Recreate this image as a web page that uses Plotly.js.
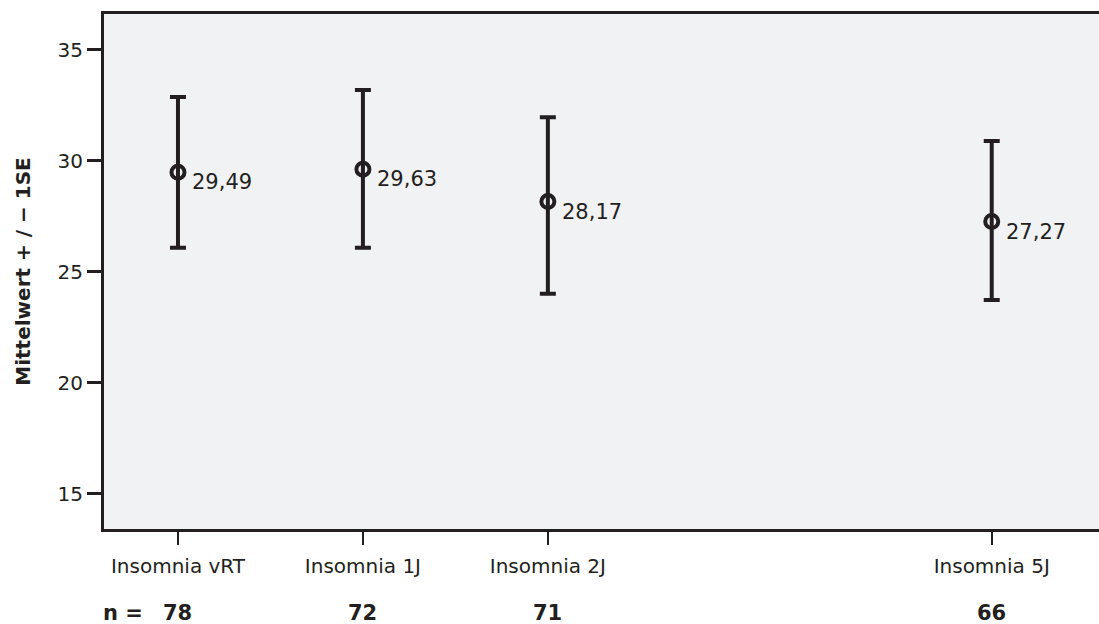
<!DOCTYPE html>
<html>
<head>
<meta charset="utf-8">
<script src="https://cdn.plot.ly/plotly-3.0.1.min.js"></script>
<style>html,body{margin:0;padding:0;background:#fff;}#chart{width:1099px;height:624px;}</style>
</head>
<body>
<div id="chart"></div>
<script>
// Data
const categories = ["Insomnia vRT", "Insomnia 1J", "Insomnia 2J", "Insomnia 5J"];
const xPositions = [0, 1, 2, 4.4];
const means = [29.49, 29.63, 28.17, 27.27];
const upperBounds = [32.88, 33.20, 31.97, 30.90];
const lowerBounds = [26.09, 26.09, 24.02, 23.74];
const nValues = [78, 72, 71, 66];

const ink = "#231f20";
const fontFam = "DejaVu Sans, Verdana, sans-serif";

const errPlus = means.map((m, i) => upperBounds[i] - m);
const errMinus = means.map((m, i) => m - lowerBounds[i]);

const trace = {
  type: "scatter",
  mode: "markers",
  x: xPositions,
  y: means,
  marker: {symbol: "circle-open", size: 13, color: ink, line: {width: 4, color: ink}},
  error_y: {type: "data", symmetric: false, array: errPlus, arrayminus: errMinus,
            color: ink, thickness: 4, width: 8},
  hoverinfo: "skip",
  showlegend: false
};

const fmt = v => v.toFixed(2).replace(".", ",");

const annotations = [];
means.forEach((m, i) => {
  annotations.push({x: xPositions[i], y: m, xref: "x", yref: "y", text: fmt(m),
    showarrow: false, xanchor: "left", yanchor: "middle", xshift: 12, yshift: -10,
    font: {family: fontFam, size: 21, color: ink}});
  annotations.push({x: xPositions[i], y: 0, xref: "x", yref: "paper", text: "<b>" + nValues[i] + "</b>",
    showarrow: false, xanchor: "center", yanchor: "middle", yshift: -84,
    font: {family: fontFam, size: 21, color: ink}});
});
annotations.push({x: 0, y: 0, xref: "paper", yref: "paper", text: "<b>n =</b>",
  showarrow: false, xanchor: "left", yanchor: "middle", xshift: -3, yshift: -84,
  font: {family: fontFam, size: 21, color: ink}});

const layout = {
  width: 1099, height: 624,
  margin: {l: 104, r: 0, t: 14, b: 95},
  paper_bgcolor: "#ffffff",
  plot_bgcolor: "#f1f2f4",
  font: {family: fontFam, color: ink},
  xaxis: {
    range: [-0.4, 4.98],
    tickmode: "array", tickvals: xPositions, ticktext: categories,
    showgrid: false, zeroline: false,
    showline: true, linecolor: ink, linewidth: 3, mirror: true,
    ticks: "outside", ticklen: 13, tickwidth: 2, tickcolor: ink,
    ticklabelstandoff: 4,
    tickfont: {family: fontFam, size: 20, color: ink}
  },
  yaxis: {
    range: [13.42, 36.62],
    tickmode: "array", tickvals: [15, 20, 25, 30, 35],
    showgrid: false, zeroline: false,
    showline: true, linecolor: ink, linewidth: 3,
    ticks: "outside", ticklen: 14, tickwidth: 3, tickcolor: ink,
    tickfont: {family: fontFam, size: 20, color: ink},
    title: {text: "<b>Mittelwert + / − 1SE</b>", font: {family: fontFam, size: 20, color: ink}, standoff: 22}
  },
  annotations: annotations
};

Plotly.newPlot("chart", [trace], layout, {displayModeBar: false, staticPlot: true});
</script>
</body>
</html>
